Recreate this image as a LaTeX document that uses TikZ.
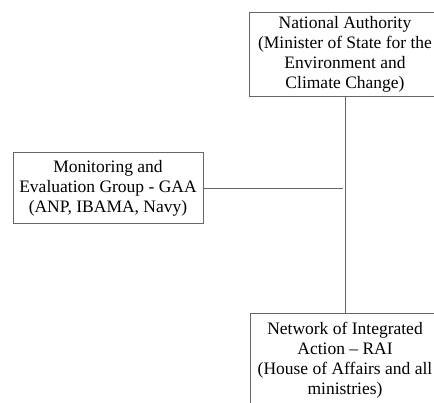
\documentclass[tikz,border=0pt]{standalone}
\usepackage{fontspec}
\setmainfont{Liberation Serif}
\usetikzlibrary{positioning}
\tikzstyle{box}=[rectangle, draw=black!60, line width=0.8, align=center, inner sep=2pt, font=\fontsize{17.5}{20}\selectfont]
\tikzstyle{l1}=[line width=0.8, draw=black!60]

\begin{document}
\begin{tikzpicture}[x=1pt, y=-1pt]
    \path[use as bounding box, clip] (0,0) rectangle (434,403);

    \node (auth) [box, minimum width=192, minimum height=84] at (345,54)
        {National Authority\\(Minister of State for the\\Environment and\\Climate Change)};
    \node (gaa) [box, minimum width=190, minimum height=71] at (108,188)
        {Monitoring and\\Evaluation Group - GAA\\(ANP, IBAMA, Navy)};
    \node (rai) [box, minimum width=190, minimum height=94] at (345,360)
        {Network of Integrated\\Action -- RAI\\(House of Affairs and all\\ministries)};

    \coordinate (joint) at (343,188);
    \draw[l1] (auth) -- (rai);
    \draw[l1] (gaa.east) -- (joint);
\end{tikzpicture}
\end{document}
